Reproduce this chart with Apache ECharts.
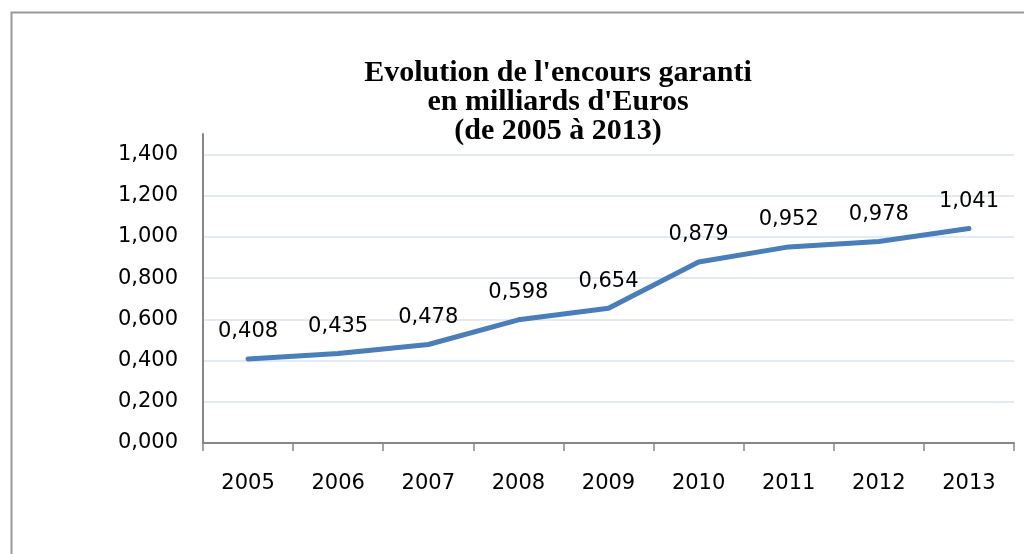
<!DOCTYPE html>
<html>
<head>
<meta charset="utf-8">
<script src="https://cdn.jsdelivr.net/npm/echarts@6/dist/echarts.min.js"></script>
<style>
html,body{margin:0;padding:0;background:#fff;}
#chart{width:1024px;height:554px;}
</style>
</head>
<body>
<div id="chart"></div>
<script>
const titleLines = ["Evolution de l'encours garanti", "en milliards d'Euros", "(de 2005 à 2013)"];
const years = ["2005","2006","2007","2008","2009","2010","2011","2012","2013"];
const encours = [0.408, 0.435, 0.478, 0.598, 0.654, 0.879, 0.952, 0.978, 1.041];
const yMin = 0, yMax = 1.5, yStep = 0.2, yLastLabel = 1.4;

const fmt = v => Number(v).toFixed(3).replace('.', ',');

const chart = echarts.init(document.getElementById('chart'), null, {renderer: 'canvas'});
chart.setOption({
  animation: false,
  backgroundColor: '#fff',
  graphic: [{
    type: 'rect', left: 9, top: 10, z: 100,
    shape: {width: 1100, height: 600},
    style: {fill: 'none', stroke: '#9a9a9a', lineWidth: 2}
  }],
  title: {
    text: titleLines.join('\n'),
    left: 558, top: 59, padding: 0,
    textAlign: 'center',
    textStyle: {fontFamily: 'Liberation Serif', fontWeight: 'bold', fontSize: 30, lineHeight: 29, color: '#000'}
  },
  grid: {left: 203, right: 10, top: 134, bottom: 111, containLabel: false},
  xAxis: {
    type: 'category', data: years, boundaryGap: true,
    axisLine: {lineStyle: {color: '#878787', width: 2}},
    axisTick: {show: true, length: 8, lineStyle: {color: '#878787', width: 1.5}},
    axisLabel: {color: '#000', fontFamily: 'DejaVu Sans', fontSize: 21, margin: 30}
  },
  yAxis: {
    type: 'value', min: yMin, max: yMax, interval: yStep,
    axisLine: {show: true, lineStyle: {color: '#878787', width: 2}},
    axisTick: {show: false},
    axisLabel: {color: '#000', fontFamily: 'DejaVu Sans', fontSize: 21, margin: 25,
      formatter: v => v > yLastLabel + 1e-6 ? '' : fmt(v)},
    splitLine: {show: true, lineStyle: {color: ['#d9e3f1','#d9e3f1','#d9e3f1','#d9e3f1','#d9e3f1','#d9e3f1','#d9e3f1','#d9e3f1','rgba(0,0,0,0)'], width: 1.5}}
  },
  series: [{
    type: 'line', data: encours,
    symbol: 'circle', symbolSize: 1, showSymbol: true,
    itemStyle: {color: 'rgba(0,0,0,0)', borderWidth: 0},
    lineStyle: {color: '#4a7ebb', width: 5, cap: 'round', join: 'round'},
    label: {show: true, position: 'top', distance: 16, color: '#000', fontFamily: 'DejaVu Sans', fontSize: 21,
      formatter: p => fmt(p.value)}
  }]
});
</script>
</body>
</html>
